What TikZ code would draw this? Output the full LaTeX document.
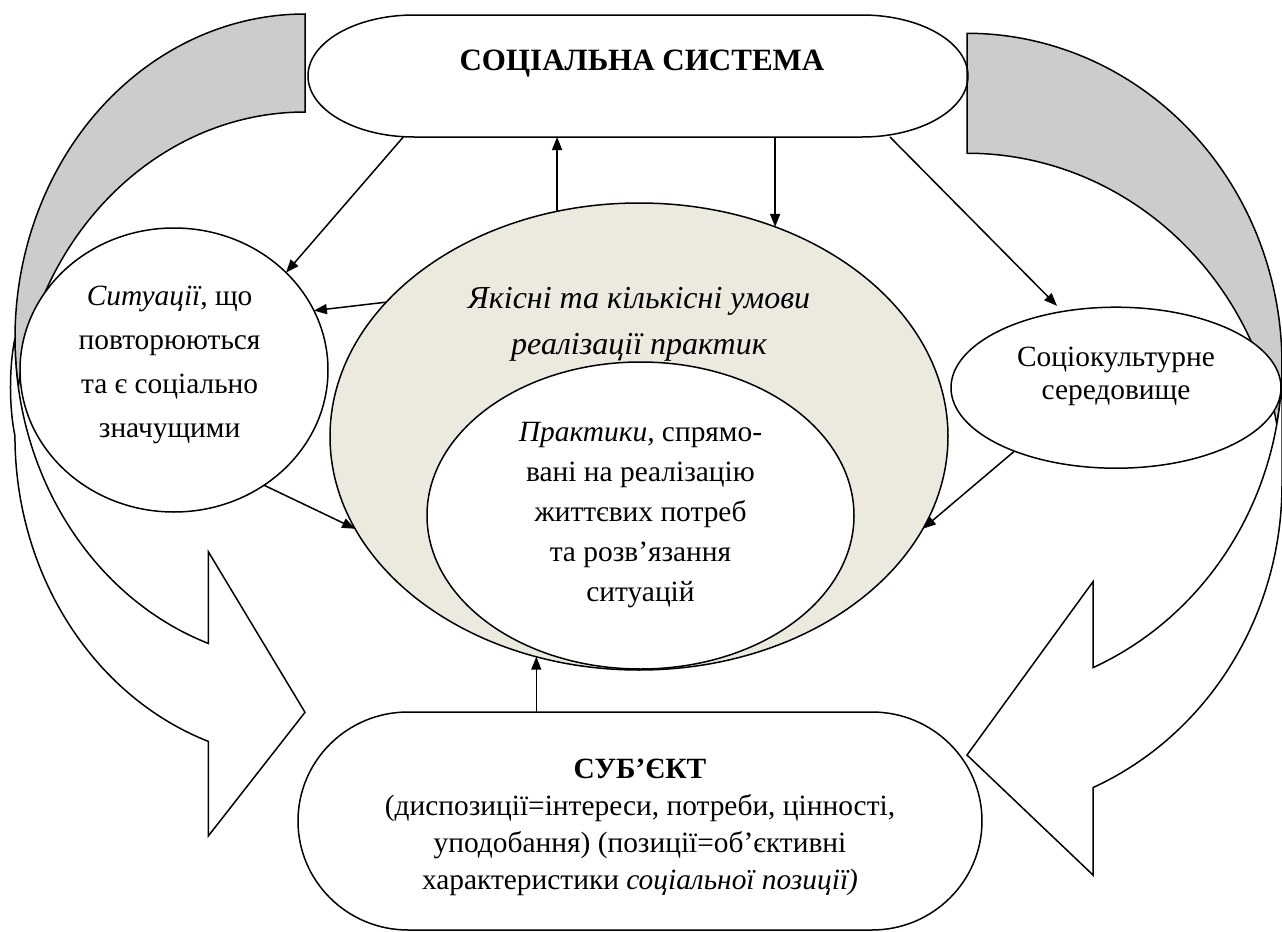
\documentclass[tikz,border=0pt]{standalone}
\usepackage{fontspec}
\setmainfont{Liberation Serif}
\usetikzlibrary{arrows.meta,shapes.geometric}
\definecolor{condfill}{RGB}{236,234,223}

\begin{document}
\begin{tikzpicture}[x=0.5pt, y=-0.5pt, line width=0.75pt,
  blob/.style={shape=ellipse, draw=black, fill=white, inner sep=0pt, outer sep=0pt},
  termbox/.style={shape=rectangle, inner sep=0pt, outer sep=0pt},
  conn/.style={-{Triangle[length=6.5pt, width=5pt]}, draw=black},
  txt/.style={align=center, inner sep=0pt, font=\fontsize{14.7}{#1}\selectfont},
  txt/.default=20pt]
\useasboundingbox (0,0) rectangle (1282,932);

% left loop arrow: grey back, white front
\filldraw[fill=gray!40] (305,14) arc[start angle=90, end angle=188.7, x radius=145pt, y radius=162pt] arc[start angle=171.3, end angle=90, x radius=145pt, y radius=162pt] -- cycle;
\filldraw[fill=white] (15,338) arc[start angle=180, end angle=250.53, x radius=145pt, y radius=162pt] -- (208.3,551.7) -- (305,712.3) -- (208.3,836) -- (208.3,741.4) arc[start angle=250.53, end angle=180, x radius=145pt, y radius=162pt] .. controls (9,407) and (9,367) .. cycle;

% right loop arrow
\filldraw[fill=gray!40] (967,33.3) arc[start angle=90, end angle=-10.44, x radius=157.5pt, y radius=165.5pt] arc[start angle=10.44, end angle=90, x radius=157.5pt, y radius=165.5pt] -- cycle;
\filldraw[fill=white] (1282,364.3) arc[start angle=0, end angle=-66.42, x radius=157.5pt, y radius=165.5pt] -- (1093,581.7) -- (967,755) -- (1093,875) -- (1093,787.6) arc[start angle=-66.42, end angle=0, x radius=157.5pt, y radius=165.5pt] -- cycle;

% top and bottom boxes
\node[termbox, minimum width=330pt, minimum height=61pt, label={[align=center, font=\bfseries\fontsize{15.5}{19}\selectfont, xshift=2pt, yshift=6pt]center:СОЦІАЛЬНА СИСТЕМА}] (sys) at (638,76) {};
\draw ([xshift=53pt]sys.north west) -- ([xshift=-53pt]sys.north east) arc[start angle=90, end angle=-90, x radius=53pt, y radius=30.5pt] -- ([xshift=53pt]sys.south west) arc[start angle=270, end angle=90, x radius=53pt, y radius=30.5pt] -- cycle;
\node[termbox, minimum width=342pt, minimum height=109pt, label={[txt=18.5pt, yshift=-3pt]center:{\bfseries СУБ’ЄКТ}\\(диспозиції=інтереси, потреби, цінності,\\уподобання) (позиції=об’єктивні\\характеристики \textit{соціальної позиції)}}] (subj) at (640,821) {};
\draw ([xshift=55pt]subj.north west) -- ([xshift=-55pt]subj.north east) arc[start angle=90, end angle=-90, x radius=55pt, y radius=54.5pt] -- ([xshift=55pt]subj.south west) arc[start angle=270, end angle=90, x radius=55pt, y radius=54.5pt] -- cycle;

% ellipses
\node[blob, fill=condfill, minimum width=309pt, minimum height=233.5pt, label={[align=center, inner sep=0pt, font=\itshape\fontsize{16}{23}\selectfont, yshift=56.25pt]center:Якісні та кількісні умови\\реалізації практик}] (cond) at (639,436.5) {};
\node[blob, minimum width=213.5pt, minimum height=153.5pt, label={[txt=20pt]center:\textit{Практики,} спрямо-\\вані на реалізацію\\життєвих потреб\\та розв’язання\\ситуацій}] (prac) at (640.5,515.5) {};
\node[blob, minimum width=154pt, minimum height=142pt, label={[txt=22pt, xshift=-2.2pt, yshift=2.5pt]center:\textit{Ситуації}, що\\повторюються\\та є соціально\\значущими}] (sit) at (174,370) {};
\node[blob, minimum width=165pt, minimum height=80.5pt, label={[txt=16.5pt, yshift=5.5pt]center:Соціокультурне\\середовище}] (env) at (1116,387.7) {};

% connectors
\draw[conn] (403.3,0 |- sys.south) -- (sit.41.2);
\draw[conn] (cond.152.6) -- (sit.23.2);
\draw[conn] (cond.110.5) -- (cond.110.5 |- sys.south);
\draw[conn] (cond.57.3 |- sys.south) -- (cond.57.3);
\draw[conn, shorten >=4pt] (890,0 |- sys.south) -- (env.125);
\draw[conn] (sit.-52.1) -- (cond.198.1);
\draw[conn] (env.212) -- (cond.-18);
\draw[conn] (cond.245.3 |- subj.north) -- (cond.245.3);
\end{tikzpicture}
\end{document}
